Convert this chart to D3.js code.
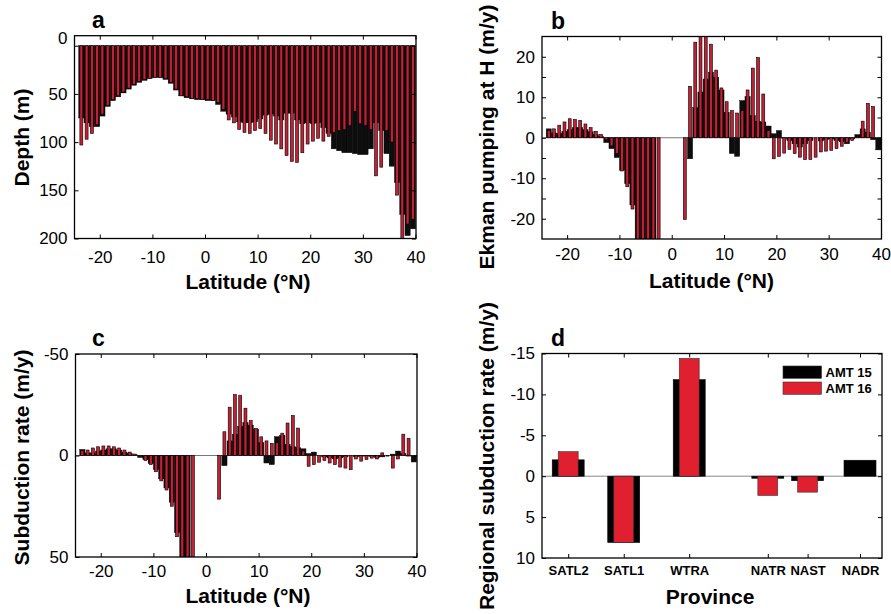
<!DOCTYPE html>
<html>
<head>
<meta charset="utf-8">
<script src="https://cdn.jsdelivr.net/npm/d3@7"></script>
<style>
body{margin:0;background:#fff;}
text{font-family:"Liberation Sans",Arial,Helvetica,sans-serif;}
</style>
</head>
<body>
<script>
// 1-degree latitude bins, AMT 15 (black) and AMT 16 (red)
var latitude = [-23.5,-22.5,-21.5,-20.5,-19.5,-18.5,-17.5,-16.5,-15.5,-14.5,-13.5,-12.5,-11.5,-10.5,-9.5,-8.5,
  -7.5,-6.5,-5.5,-4.5,-3.5,-2.5,-1.5,-0.5,0.5,1.5,2.5,3.5,4.5,5.5,6.5,7.5,8.5,9.5,10.5,11.5,12.5,13.5,14.5,15.5,
  16.5,17.5,18.5,19.5,20.5,21.5,22.5,23.5,24.5,25.5,26.5,27.5,28.5,29.5,30.5,31.5,32.5,33.5,34.5,35.5,36.5,37.5,38.5,39.5];

// a: mixed layer depth (m)
var depth15 = [75,80,84,84,73,63,57,53,49,45,41,38,36,34,33,33,35,39,46,52,54,55,56,56,57,57,61,68,71,74,79,80,80,79,76,72,
  71,73,77,70,70,77,81,80,81,80,85,91,107,109,111,111,112,113,113,107,80,88,112,125,142,175,197,190];
var depth16 = [103,97,91,82,71,62,56,52,48,44,40,37,35,34,33,33,34,38,45,52,53,55,55,56,56,57,59,66,77,80,87,90,91,88,86,91,
  98,102,107,114,120,121,111,102,99,96,99,94,90,88,87,83,68,81,83,87,135,126,88,100,155,205,185,180];

// b: Ekman pumping at H (m/y)
var ekman15 = [2.2,1.2,1.0,1.6,2.0,2.5,2.5,2.0,1.5,0.8,0.3,-1.2,-2.7,-4.9,-8.0,-11.3,-16.6,-27,-32,-36,-40,null,null,null,null,null,
  null,-5.2,7.4,11.3,14.5,16.2,14.9,11.8,6.3,-3.9,-4.6,9.2,10.2,5.5,4.1,3.9,2.9,1.0,1.8,-0.1,-0.7,-1.5,-2.3,-1.5,-0.7,0,
  -0.8,-0.5,-0.3,-0.7,-1.0,-1.5,-0.3,0.8,2.2,1.4,-0.5,-3.0];
var ekman16 = [1.8,2.2,3.1,3.9,4.7,4.5,4.3,3.4,2.5,1.6,0.8,-0.5,-2.0,-3.9,-8.2,-12.1,-17.6,-30,-35,-40,-45,-45,null,null,null,null,
  -20.2,12.7,23.6,27,26,23.1,16.7,12.3,8.9,6.7,6.1,6.7,11.8,17.2,19.8,10.8,1.8,-5.2,-4.6,-3.8,-2.9,-3.9,-4.8,-5.4,-5.4,-4.8,
  -3.5,-3.3,-3.1,-2.7,-2.1,-1.2,-0.7,0.3,4.1,8.5,7.7,null];

// c: subduction rate (m/y)
var subduction15 = [-3.0,-1.3,-1.3,-2.2,-2.7,-3.3,-3.3,-2.7,-1.7,-1.0,-0.3,1.0,2.0,4.0,7.0,11.5,16,23,38,55,60,null,null,null,null,null,
  null,5.0,-7.2,-10.5,-14.3,-16.3,-15,-13,-6.3,3.7,4.5,-9.3,-10,-5.5,-4.3,-3.8,-3.3,-1.0,-1.7,0,0.7,1.2,1.7,1.2,0.7,0,
  0.7,0.3,0.3,0.5,1.0,0.7,0,-0.7,-2.2,-1.0,0.3,3.2];
var subduction16 = [-2.5,-2.7,-3.7,-4.3,-4.7,-4.7,-4.3,-3.7,-2.7,-1.7,-0.7,0.5,2.5,4.5,8.0,12.5,17,25,40,60,65,60,null,null,null,null,
  21.5,-11.7,-23.8,-30,-29.7,-23.3,-17.2,-13.3,-9.2,-7.2,-6.0,-6.3,-11,-16,-19.7,-13.5,-2.2,5.3,4.5,3.3,2.5,3.7,4.5,5.7,6.2,7.0,
  1.7,2.8,2.0,1.3,1.7,-1.3,0.3,6.2,1.7,-10.5,-8.5,null];

// d: regional subduction rate by province (m/y)
var provinces = ["SATL2","SATL1","WTRA","NATR","NAST","NADR"];
var provinceLat = [-19.8,-9.2,3.3,18.3,25.9,35.9];
var regional15 = [-2.0,8.1,-11.8,0.25,0.55,-1.95];
var regional16 = [-3.0,8.1,-14.4,2.35,1.95,null];

var latTicks = [-20,-10,0,10,20,30,40];
var red = "#c41f33", redD = "#e0202e", black = "#0d0d0d";

var svg = d3.select("body").append("svg").attr("width",891).attr("height",614);

// draw box + inward ticks on all four sides
function frame(g, x, y, box, xt, yt, xfmt, yfmt, xpad, xFont) {
  var bx = g.append("g").attr("transform","translate(0,"+box.bottom+")")
    .call(d3.axisBottom(x).tickValues(xt).tickSize(-4).tickPadding(xpad).tickFormat(xfmt));
  g.append("g").attr("transform","translate(0,"+box.top+")")
    .call(d3.axisTop(x).tickValues(xt).tickSize(-4).tickFormat(""));
  var ly = g.append("g").attr("transform","translate("+box.left+",0)")
    .call(d3.axisLeft(y).tickValues(yt).tickSize(-4).tickPadding(7).tickFormat(yfmt));
  g.append("g").attr("transform","translate("+box.right+",0)")
    .call(d3.axisRight(y).tickValues(yt).tickSize(-4).tickFormat(""));
  g.selectAll(".domain").remove();
  g.selectAll(".tick line").attr("stroke","#000").attr("stroke-width",1);
  ly.selectAll("text").attr("font-size",17).attr("fill","#000").style("font-family","Liberation Sans, Arial, sans-serif");
  bx.selectAll("text").attr("fill","#000").style("font-family","Liberation Sans, Arial, sans-serif")
    .attr("font-size", xFont ? xFont : 17).attr("font-weight", xFont ? "bold" : "normal");
  g.append("rect").attr("x",box.left).attr("y",box.top)
    .attr("width",box.right-box.left).attr("height",box.bottom-box.top)
    .attr("fill","none").attr("stroke","#000").attr("stroke-width",1.3);
  return ly;
}

function clipFor(id, box) {
  svg.append("clipPath").attr("id",id).append("rect")
    .attr("x",box.left).attr("y",box.top).attr("width",box.right-box.left).attr("height",box.bottom-box.top);
  return "url(#"+id+")";
}

function hyphen(d){ return String(d); }

function latPanel(id, box, yDomain, yRange, s15, s16, yTicks, yfmt, xpad, zeroLine) {
  var g = svg.append("g");
  var x = d3.scaleLinear().domain([-24.8,40.1]).range([box.left,box.right]);
  var y = d3.scaleLinear().domain(yDomain).range(yRange);
  var plot = g.append("g").attr("clip-path", clipFor("clip"+id, box));
  if (zeroLine) {
    plot.append("line").attr("x1",box.left).attr("x2",box.right)
      .attr("y1",y(0)).attr("y2",y(0)).attr("stroke","#777").attr("stroke-width",1);
  }
  var wBlack = x(0.5) - x(-0.5), wRed = x(0.28) - x(-0.28);
  plot.selectAll("rect.b15").data(latitude.map(function(l,i){return {lat:l, v:s15[i]};}).filter(function(d){return d.v!==null;}))
    .enter().append("rect").attr("class","b15")
    .attr("x",function(d){return x(d.lat)-wBlack/2;}).attr("width",wBlack)
    .attr("y",function(d){return Math.min(y(0),y(d.v));})
    .attr("height",function(d){return Math.abs(y(d.v)-y(0));})
    .attr("fill",black).attr("stroke","#000").attr("stroke-width",0.4);
  plot.selectAll("rect.b16").data(latitude.map(function(l,i){return {lat:l, v:s16[i]};}).filter(function(d){return d.v!==null;}))
    .enter().append("rect").attr("class","b16")
    .attr("x",function(d){return x(d.lat)-wRed/2;}).attr("width",wRed)
    .attr("y",function(d){return Math.min(y(0),y(d.v));})
    .attr("height",function(d){return Math.abs(y(d.v)-y(0));})
    .attr("fill",red).attr("stroke","#000").attr("stroke-width",0.6);
  return frame(g, x, y, box, latTicks, yTicks, hyphen, yfmt, xpad);
}

// panel a
var boxA = {left:74.5, right:416, top:35.7, bottom:238.5};
var yAxisA = latPanel("a", boxA, [-10.4,200], [boxA.top,boxA.bottom], depth15, depth16, [0,50,100,150,200], hyphen, 12, false);
// the "0" depth label sits at the top edge of the frame in the original
yAxisA.selectAll(".tick text").filter(function(d){return d===0;}).attr("dy","-0.15em");
// panel b
var boxB = {left:542, right:881.5, top:36.5, bottom:239};
latPanel("b", boxB, [-25,25], [boxB.bottom,boxB.top], ekman15, ekman16, [-20,-15,-10,-5,0,5,10,15,20],
  function(d){ return d % 10 === 0 ? String(d) : ""; }, 9, true);
// panel c
var boxC = {left:75.5, right:417, top:354, bottom:557};
latPanel("c", boxC, [-50,50], [boxC.top,boxC.bottom], subduction15, subduction16, [-50,0,50], hyphen, 8, true);

// panel d
var boxD = {left:542, right:882, top:353.5, bottom:558};
var gD = svg.append("g");
var xD = d3.scaleLinear().domain([-24.8,40.1]).range([boxD.left,boxD.right]);
var yD = d3.scaleLinear().domain([-15,10]).range([boxD.top,boxD.bottom]);
var plotD = gD.append("g").attr("clip-path", clipFor("clipd", boxD));
plotD.append("line").attr("x1",boxD.left).attr("x2",boxD.right).attr("y1",yD(0)).attr("y2",yD(0))
  .attr("stroke","#888").attr("stroke-width",1);
var wB = xD(3.05) - xD(-3.05), wR = xD(1.9) - xD(-1.9);
plotD.selectAll("rect.d15").data(provinceLat.map(function(p,i){return {p:p, v:regional15[i]};}).filter(function(d){return d.v!==null;}))
  .enter().append("rect").attr("class","d15")
  .attr("x",function(d){return xD(d.p)-wB/2;}).attr("width",wB)
  .attr("y",function(d){return Math.min(yD(0),yD(d.v));})
  .attr("height",function(d){return Math.abs(yD(d.v)-yD(0));})
  .attr("fill","#000").attr("stroke","#000").attr("stroke-width",0.6);
plotD.selectAll("rect.d16").data(provinceLat.map(function(p,i){return {p:p, v:regional16[i]};}).filter(function(d){return d.v!==null;}))
  .enter().append("rect").attr("class","d16")
  .attr("x",function(d){return xD(d.p)-wR/2;}).attr("width",wR)
  .attr("y",function(d){return Math.min(yD(0),yD(d.v));})
  .attr("height",function(d){return Math.abs(yD(d.v)-yD(0));})
  .attr("fill",redD).attr("stroke","#333").attr("stroke-width",0.6);
frame(gD, xD, yD, boxD, provinceLat, [-15,-10,-5,0,5,10], function(d,i){return provinces[i];}, hyphen, 7.5, 13);

// legend
var legendNames = ["AMT 15","AMT 16"], legendColors = ["#000", redD];
legendNames.forEach(function(n,i){
  gD.append("rect").attr("x",783).attr("y",366+i*16).attr("width",38.5).attr("height",12.3)
    .attr("fill",legendColors[i]).attr("stroke","#333").attr("stroke-width",0.6);
  gD.append("text").attr("x",825.5).attr("y",376.7+i*16.4).attr("font-size",13).attr("font-weight","bold").text(n);
});

// titles
function title(t, x, y, rot, size) {
  svg.append("text").attr("transform","translate("+x+","+y+")"+(rot?" rotate(-90)":""))
    .attr("text-anchor","middle").attr("font-size",size||21).attr("font-weight","bold").text(t);
}
title("Latitude (°N)", 248, 289);
title("Latitude (°N)", 711.5, 288);
title("Latitude (°N)", 248, 603);
title("Province", 710, 604);
title("Depth (m)", 28.5, 137.5, true);
title("Ekman pumping at H (m/y)", 493.5, 137, true);
title("Subduction rate (m/y)", 29, 457.5, true);
title("Regional subduction rate (m/y)", 493.5, 456, true);

[["a",92,28],["b",551,29],["c",92,346],["d",551,346]].forEach(function(p){
  svg.append("text").attr("x",p[1]).attr("y",p[2]).attr("font-size",23).attr("font-weight","bold").text(p[0]);
});
</script>
</body>
</html>
